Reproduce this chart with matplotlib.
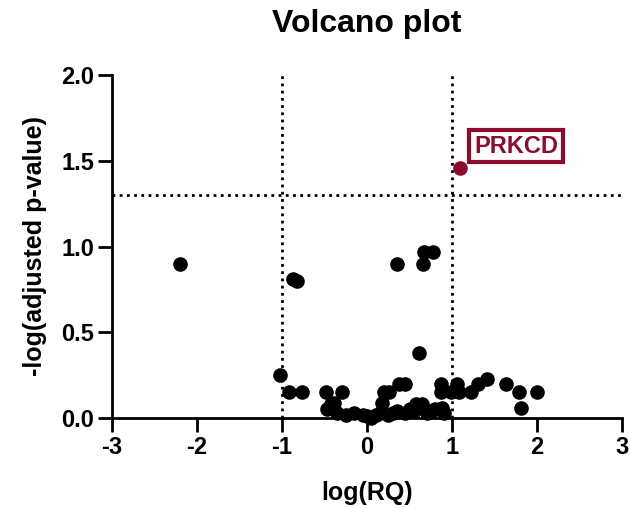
import matplotlib
matplotlib.use("Agg")
import matplotlib.pyplot as plt

plt.rcParams['font.family'] = ['Liberation Sans', 'DejaVu Sans']
plt.rcParams['font.weight'] = 'bold'
plt.rcParams['axes.unicode_minus'] = False

# log(RQ) and -log(adjusted p-value)
log_rq = [-2.2, -0.87, -0.82, 0.35, 0.67, 0.78, 0.66, 0.61,
          -1.02, -0.92, -0.76, -0.48, -0.29, -0.42, -0.47, -0.39,
          0.2, 0.26, 0.38, 0.45, 0.18, 0.58, 0.65, 0.87, 0.87, 0.88,
          1.06, 0.99, 1.08, 1.22, 1.3, 1.41, 1.64, 1.79, 1.81, 2.0,
          -0.35, -0.25, -0.15, -0.05, 0.0, 0.05, 0.1, 0.15, 0.25, 0.3,
          0.35, 0.45, 0.5, 0.55, 0.7, 0.75, 0.8, 0.9]
neg_log_p = [0.90, 0.81, 0.80, 0.90, 0.97, 0.97, 0.90, 0.38,
             0.25, 0.15, 0.15, 0.15, 0.15, 0.08, 0.05, 0.09,
             0.15, 0.15, 0.20, 0.20, 0.09, 0.08, 0.08, 0.20, 0.15, 0.06,
             0.20, 0.15, 0.15, 0.15, 0.20, 0.23, 0.20, 0.15, 0.06, 0.15,
             0.03, 0.02, 0.03, 0.02, 0.01, 0.00, 0.02, 0.03, 0.02, 0.03,
             0.04, 0.03, 0.05, 0.04, 0.03, 0.04, 0.05, 0.03]

hit_gene = "PRKCD"
hit_x = 1.09
hit_y = 1.46

fc_cut = [-1, 1]
p_cut = 1.3

red = '#8e0c2b'

fig = plt.figure(figsize=(6.31, 5.08), dpi=100)
ax = fig.add_axes([112 / 631, 90 / 508, 510 / 631, 343 / 508])

ax.scatter(log_rq, neg_log_p, s=90, color='black', zorder=3, clip_on=False)
ax.scatter([hit_x], [hit_y], s=90, color=red, zorder=3)
ax.annotate(hit_gene, (hit_x, hit_y), xytext=(1.26, 1.585), color=red,
            fontsize=17, fontweight='bold', va='center', ha='left',
            bbox=dict(boxstyle='square,pad=0.2', fc='white', ec=red, lw=3))

for v in fc_cut:
    ax.axvline(v, color='black', ls=(0, (1, 1.6)), lw=2, zorder=1)
ax.axhline(p_cut, color='black', ls=(0, (1, 1.6)), lw=2, zorder=1)

ax.set_xlim(-3, 3)
ax.set_ylim(0, 2)
ax.set_xticks(range(-3, 4))
ax.set_yticks([0, 0.5, 1.0, 1.5, 2.0])
ax.set_yticklabels(['0.0', '0.5', '1.0', '1.5', '2.0'])

for side in ['top', 'right']:
    ax.spines[side].set_visible(False)
for side in ['left', 'bottom']:
    ax.spines[side].set_linewidth(2)
ax.tick_params(width=2, length=10, labelsize=17, pad=3)

ax.set_xlabel('log(RQ)', fontsize=18, fontweight='bold', labelpad=16)
ax.set_ylabel('-log(adjusted p-value)', fontsize=18, fontweight='bold', labelpad=10)
ax.set_title('Volcano plot', fontsize=23, fontweight='bold', pad=31)

fig.savefig('out.png', dpi=100)
